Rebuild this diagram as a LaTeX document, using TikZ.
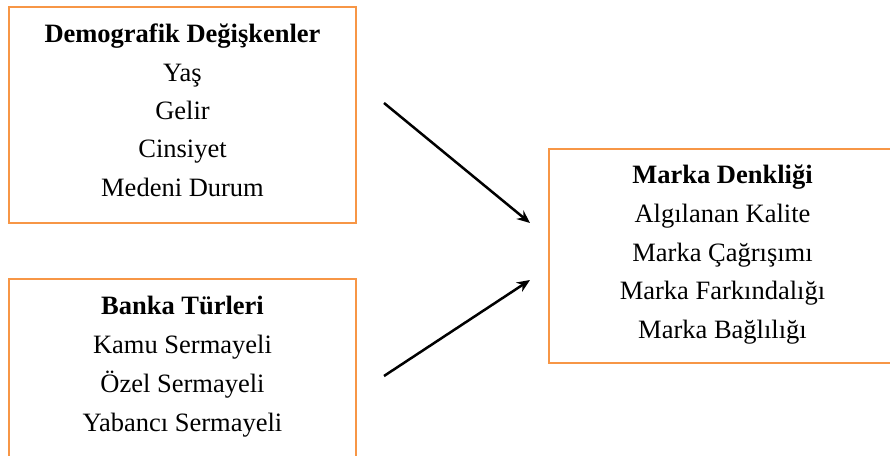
\documentclass[tikz,border=0pt]{standalone}
\usepackage{fontspec}
\setmainfont{Liberation Serif}
\usetikzlibrary{arrows.meta}
\definecolor{boxorange}{RGB}{247,150,70}
\begin{document}
\begin{tikzpicture}[x=1pt,y=1pt,
  box/.style={draw=boxorange,line width=2pt},
  line/.style={anchor=base,inner sep=0pt,font=\fontsize{26.5}{30}\selectfont},
  title/.style={line,font=\fontsize{26.5}{30}\selectfont\bfseries},
  conn/.style={line width=2.5pt,-{Stealth[length=13pt,width=11pt]}}]
\useasboundingbox (0,0) rectangle (890,455);
\begin{scope}
\clip (0,0) rectangle (890,455);
\draw[box] (9,448) rectangle (356,232);
\draw[box] (9,176) rectangle (356,-20);
\draw[box] (549,306) rectangle (900,92);
\end{scope}
% box 1
\node[title] (t1) at (182.5,412) {Demografik Değişkenler};
\node[line] (l11) at (182.5,373) {Yaş};
\node[line] (l12) at (182.5,335) {Gelir};
\node[line] (l13) at (182.5,297) {Cinsiyet};
\node[line] (l14) at (182.5,258) {Medeni Durum};
% box 2
\node[title] (t2) at (182.5,140) {Banka Türleri};
\node[line] (l21) at (182.5,102) {Kamu Sermayeli};
\node[line] (l22) at (182.5,63) {Özel Sermayeli};
\node[line] (l23) at (182.5,24) {Yabancı Sermayeli};
% box 3
\node[title] (t3) at (722.5,271) {Marka Denkliği};
\node[line] (l31) at (722.5,232) {Algılanan Kalite};
\node[line] (l32) at (722.5,193) {Marka Çağrışımı};
\node[line] (l33) at (722.5,155) {Marka Farkındalığı};
\node[line] (l34) at (722.5,117) {Marka Bağlılığı};
% arrows
\coordinate (a1s) at (384,352);
\coordinate (a1e) at (530,232);
\coordinate (a2s) at (384,79);
\coordinate (a2e) at (530,175);
\draw[conn] (a1s) -- (a1e);
\draw[conn] (a2s) -- (a2e);
\end{tikzpicture}
\end{document}
